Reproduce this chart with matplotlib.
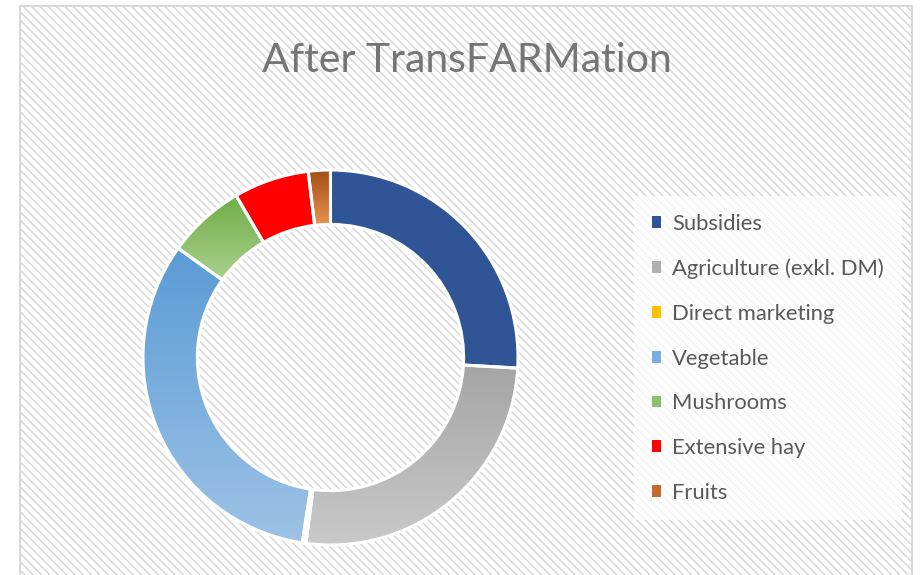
import matplotlib
matplotlib.use("Agg")
import matplotlib.pyplot as plt
import numpy as np
from matplotlib.patches import Rectangle, Patch
from matplotlib.colors import LinearSegmentedColormap

categories = ["Subsidies", "Agriculture (exkl. DM)", "Direct marketing", "Vegetable",
              "Mushrooms", "Extensive hay", "Fruits"]
values = [25.9, 26.2, 0.3, 32.5, 6.7, 6.5, 1.9]
top_colors = ["#2F5597", "#A5A5A5", "#FFC000", "#5B9BD5", "#70AD47", "#FF0000", "#A04E16"]
bottom_colors = ["#2F5597", "#C9C9C9", "#FFD966", "#9DC3E6", "#A9D18E", "#FF0000", "#E8924E"]
title = "After TransFARMation"

plt.rcParams['font.family'] = ['Lato', 'DejaVu Sans']
plt.rcParams['hatch.linewidth'] = 1.15
plt.rcParams['hatch.color'] = '#DCDCDC'

W, H = 922, 575
fig = plt.figure(figsize=(W / 100, H / 100), dpi=100, facecolor='white')

# chart area background with diagonal hatch
bg = Rectangle((20 / W, -0.05), (912 - 20) / W, 1.05 - 6 / H, transform=fig.transFigure,
               facecolor='white', edgecolor='#D9D9D9', linewidth=1.5, hatch='\\\\\\\\',
               zorder=-10)
fig.patches.append(bg)

cx, cy, R = 330.5, 357.5, 187.5
ax = fig.add_axes([(cx - R) / W, (H - cy - R) / H, 2 * R / W, 2 * R / H])
ax.set_zorder(5)
ax.axis('off')
ax.patch.set_alpha(0)

ring = 0.29
wedges, _ = ax.pie(values, radius=1, startangle=90, counterclock=False,
                   colors=top_colors, wedgeprops=dict(width=ring, linewidth=0))

grad = np.linspace(0, 1, 256).reshape(-1, 1)
for w, c0, c1 in zip(wedges, top_colors, bottom_colors):
    if c0 == c1:
        continue
    ext = w.get_path().get_extents()
    cmap = LinearSegmentedColormap.from_list('g', [c0, c1])
    im = ax.imshow(grad, cmap=cmap, aspect='auto', interpolation='bilinear',
                   extent=(ext.x0, ext.x1, ext.y0, ext.y1), origin='upper', zorder=2)
    im.set_clip_path(w)
    w.set_facecolor('none')

ax.pie(values, radius=1, startangle=90, counterclock=False,
       wedgeprops=dict(width=ring, linewidth=2.2, edgecolor='white', facecolor='none', zorder=3))
ax.set_aspect('equal')
ax.set_xlim(-1.0, 1.0)
ax.set_ylim(-1.0, 1.0)

fig.text(467 / W, 1 - 72 / H, title, ha='center', va='baseline', fontsize=29.5, color='#757575')

handles = [Patch(facecolor=c0, edgecolor='none') for c0 in top_colors]
handles[1] = Patch(facecolor='#B0B0B0', edgecolor='none')
handles[3] = Patch(facecolor='#7AAEE0', edgecolor='none')
handles[4] = Patch(facecolor='#8CC06A', edgecolor='none')
handles[6] = Patch(facecolor='#C8682A', edgecolor='none')
leg = fig.legend(handles, categories, loc='upper left', bbox_to_anchor=(634 / W, 1 - 196 / H),
                 frameon=True, fontsize=15.8, labelcolor='#595959', handlelength=0.45,
                 handleheight=0.45, handletextpad=0.5, labelspacing=1.13, borderpad=0.8,
                 borderaxespad=0, fancybox=False, framealpha=0.7, edgecolor='none')
leg.get_frame().set_facecolor('white')
leg.set_zorder(6)

fig.savefig('out.png', dpi=100, facecolor='white')
